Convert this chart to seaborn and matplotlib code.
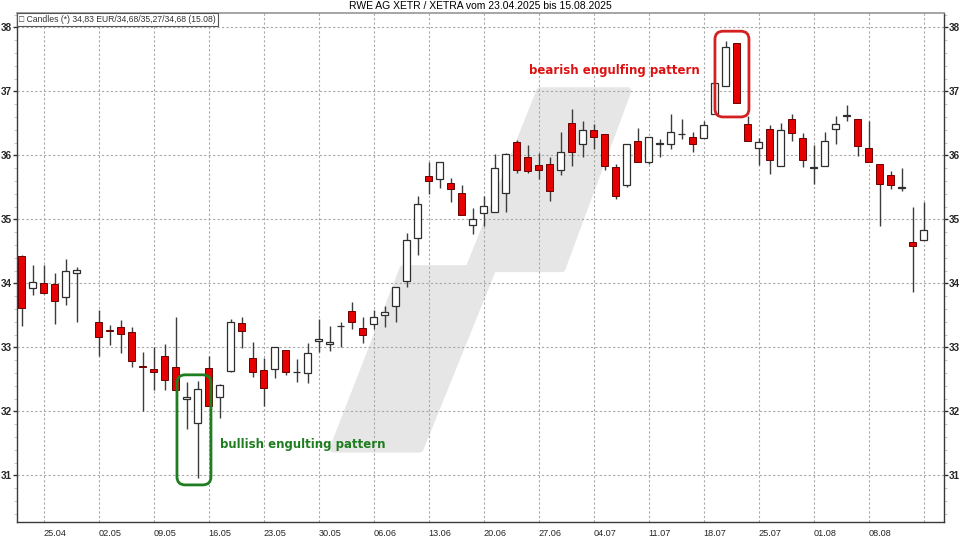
import numpy as np
import pandas as pd
import seaborn as sns
import matplotlib.pyplot as plt
from matplotlib.patches import FancyBboxPatch, Polygon

# daily candles RWE AG, XETRA
dates = ["23.04", "24.04", "25.04", "28.04", "29.04", "30.04",
         "02.05", "05.05", "06.05", "07.05", "08.05", "09.05",
         "12.05", "13.05", "14.05", "15.05", "16.05",
         "19.05", "20.05", "21.05", "22.05", "23.05",
         "26.05", "27.05", "28.05", "29.05", "30.05",
         "02.06", "03.06", "04.06", "05.06", "06.06",
         "09.06", "10.06", "11.06", "12.06", "13.06",
         "16.06", "17.06", "18.06", "19.06", "20.06",
         "23.06", "24.06", "25.06", "26.06", "27.06",
         "30.06", "01.07", "02.07", "03.07", "04.07",
         "07.07", "08.07", "09.07", "10.07", "11.07",
         "14.07", "15.07", "16.07", "17.07", "18.07",
         "21.07", "22.07", "23.07", "24.07", "25.07",
         "28.07", "29.07", "30.07", "31.07", "01.08",
         "04.08", "05.08", "06.08", "07.08", "08.08",
         "11.08", "12.08", "13.08", "14.08", "15.08"]

open_ = [34.43, 33.93, 34.01, 33.99, 33.78, 34.16,
         33.40, 33.27, 33.32, 33.24, 32.71, 32.66,
         32.87, 32.69, 32.19, 31.82, 32.67,
         32.22, 32.63, 33.38, 32.83, 32.65,
         32.66, 32.96, 32.61, 32.60, 33.10,
         33.05, 33.33, 33.56, 33.30, 33.36,
         33.50, 33.64, 34.04, 34.71, 35.68,
         35.63, 35.57, 35.41, 34.91, 35.10,
         35.11, 35.41, 36.21, 35.98, 35.85,
         35.86, 35.77, 36.50, 36.17, 36.40,
         36.33, 35.82, 35.53, 36.23, 35.89,
         36.18, 36.18, 36.33, 36.29, 36.27,
         36.65, 37.08, 37.75, 36.49, 36.12,
         36.41, 35.84, 36.57, 36.27, 35.81,
         35.84, 36.41, 36.62, 36.57, 36.11,
         35.87, 35.69, 35.49, 34.64, 34.68]

high = [34.44, 34.28, 34.28, 34.16, 34.38, 34.25,
        33.58, 33.35, 33.43, 33.32, 32.92, 33.00,
        33.05, 33.47, 32.46, 32.48, 32.87,
        32.42, 33.45, 33.47, 33.08, 32.83,
        33.01, 32.96, 32.81, 33.06, 33.44,
        33.34, 33.39, 33.71, 33.48, 33.58,
        33.64, 33.95, 34.79, 35.37, 35.89,
        35.89, 35.64, 35.54, 35.17, 35.37,
        36.02, 36.04, 36.24, 36.16, 36.03,
        35.98, 36.37, 36.72, 36.54, 36.49,
        36.33, 35.86, 36.17, 36.42, 36.29,
        36.25, 36.65, 36.57, 36.37, 36.53,
        37.13, 37.78, 37.76, 36.61, 36.27,
        36.48, 36.51, 36.65, 36.35, 36.16,
        36.37, 36.61, 36.79, 36.57, 36.53,
        35.87, 35.76, 35.80, 35.19, 35.27]

low = [33.33, 33.82, 33.83, 33.37, 33.66, 33.40,
       32.87, 33.04, 32.91, 32.69, 32.00, 32.33,
       32.34, 32.32, 31.72, 30.96, 32.08,
       31.89, 32.62, 32.99, 32.54, 32.09,
       32.52, 32.57, 32.46, 32.44, 32.93,
       32.95, 33.01, 33.28, 33.07, 33.28,
       33.32, 33.39, 33.94, 34.44, 35.40,
       35.49, 35.27, 35.07, 34.77, 34.89,
       35.11, 35.12, 35.72, 35.72, 35.63,
       35.28, 35.70, 35.84, 35.98, 36.10,
       35.77, 35.31, 35.51, 35.90, 35.87,
       35.98, 36.10, 36.26, 36.06, 36.27,
       36.65, 37.08, 36.82, 36.23, 35.85,
       35.71, 35.84, 36.22, 35.82, 35.55,
       35.84, 36.18, 36.54, 35.99, 35.90,
       34.90, 35.47, 35.44, 33.86, 34.68]

close = [33.61, 34.02, 33.85, 33.73, 34.20, 34.21,
         33.16, 33.26, 33.21, 32.78, 32.70, 32.62,
         32.49, 32.33, 32.22, 32.35, 32.09,
         32.41, 33.39, 33.26, 32.61, 32.36,
         33.01, 32.61, 32.61, 32.91, 33.13,
         33.08, 33.33, 33.39, 33.20, 33.47,
         33.55, 33.95, 34.67, 35.24, 35.60,
         35.89, 35.48, 35.07, 35.00, 35.21,
         35.80, 36.02, 35.77, 35.75, 35.77,
         35.45, 36.05, 36.06, 36.40, 36.29,
         35.84, 35.37, 36.17, 35.90, 36.29,
         36.18, 36.36, 36.33, 36.18, 36.47,
         37.13, 37.69, 36.82, 36.23, 36.21,
         35.93, 36.40, 36.35, 35.92, 35.81,
         36.22, 36.49, 36.62, 36.15, 35.90,
         35.56, 35.53, 35.49, 34.58, 34.83]

tick_dates = ["25.04", "02.05", "09.05", "16.05", "23.05", "30.05", "06.06", "13.06",
              "20.06", "27.06", "04.07", "11.07", "18.07", "25.07", "01.08", "08.08", "15.08"]
tick_labels = tick_dates[:-1] + [""]

df = pd.DataFrame({"date": pd.to_datetime([d + ".2025" for d in dates], format="%d.%m.%Y"),
                   "open": open_, "high": high, "low": low, "close": close})
# trading-day axis: weekends skipped, holidays (01.05) left as a gap
bdays = pd.bdate_range("2025-04-23", "2025-08-15")
pos = {d: i for i, d in enumerate(bdays)}
df["x"] = df["date"].map(pos)
df["up"] = df["close"] >= df["open"]
df["bottom"] = df[["open", "close"]].min(axis=1)
df["height"] = (df["close"] - df["open"]).abs().clip(lower=0.008)

tick_x = [pos[pd.to_datetime(d + ".2025", format="%d.%m.%Y")] for d in tick_dates]

sns.set_theme(style="white")
plt.rcParams["font.family"] = ["Liberation Sans", "DejaVu Sans"]

fig = plt.figure(figsize=(9.6, 5.4), dpi=100)
ax = fig.add_axes([0.0174, 0.0333, 0.9659, 0.9421])

# grey logo in the background
logo = [(28.3, 31.41), (34.67, 34.23), (40.66, 34.23), (47.12, 37.01),
        (55.12, 37.01), (49.12, 34.23), (42.85, 34.23), (36.21, 31.41)]
ax.add_patch(Polygon(logo, closed=True, facecolor="#e6e6e6", edgecolor="#e6e6e6",
                     lw=5, joinstyle="round", zorder=0))

# wicks
ax.vlines(df["x"], df["low"], df["high"], color="#3c3c3c", lw=1, zorder=2)
# bodies
up = df[df["up"]]
dn = df[~df["up"]]
ax.bar(up["x"], up["height"], bottom=up["bottom"], width=0.62,
       color="white", edgecolor="#2e2e2e", lw=0.9, zorder=3)
ax.bar(dn["x"], dn["height"], bottom=dn["bottom"], width=0.62,
       color="#e60000", edgecolor="#6a0000", lw=0.7, zorder=3)

ax.set_xlim(-0.45, 83.85)
ax.set_ylim(30.27, 38.22)

ax.set_yticks(range(31, 39))
ax.set_yticks(np.arange(30.4, 38.21, 0.2), minor=True)
ax.set_xticks(tick_x)
ax.set_xticklabels(tick_labels, ha="left", fontsize=6.6,
                   family=["Liberation Sans Narrow", "Liberation Sans"])
ax.tick_params(axis="x", direction="out", length=4, width=0.8, color="#9a9a9a", pad=1)
ax.tick_params(axis="y", which="major", direction="out", length=3, width=1, color="#333333",
               labelsize=7.2, left=True, right=True, labelleft=True, labelright=True, pad=0.5)
ax.tick_params(axis="y", which="minor", direction="out", length=2, width=0.6,
               color="#bbbbbb", left=True, right=True)
for lab in ax.get_yticklabels():
    lab.set_fontweight("bold")

ax.grid(True, which="major", color="#a8a8a8", linestyle=(0, (2, 2)), lw=0.8)
ax.set_axisbelow(True)
for side in ["left", "right", "bottom"]:
    ax.spines[side].set_color("#3a3a3a")
    ax.spines[side].set_linewidth(1)
ax.spines["top"].set_color("#9a9a9a")

# pattern markers
ax.add_patch(FancyBboxPatch((14.12, 30.85), 3.09, 1.72,
                            boxstyle="round,pad=0,rounding_size=0.75", mutation_aspect=0.17,
                            fill=False, edgecolor="#1e7d1e", lw=2, zorder=4))
ax.text(18.05, 31.48, "bullish engulting pattern", color="#1e7d1e", fontsize=8.5,
        fontweight="bold", family="DejaVu Sans", va="center", ha="left", zorder=5)
ax.add_patch(FancyBboxPatch((63.03, 36.6), 3.09, 1.34,
                            boxstyle="round,pad=0,rounding_size=0.75", mutation_aspect=0.17,
                            fill=False, edgecolor="#d42020", lw=2, zorder=4))
ax.text(46.1, 37.32, "bearish engulfing pattern", color="#dd1111", fontsize=8.5,
        fontweight="bold", family="DejaVu Sans", va="center", ha="left", zorder=5)

# info box top left
last = df.iloc[-1]
info = "\u25a1 Candles (*) {:.2f} EUR/{:.2f}/{:.2f}/{:.2f}".format(
    last["close"], last["open"], last["high"], last["low"]).replace(".", ",")
info += " ({})".format(dates[-1])
ax.text(0.003, 0.997, info, transform=ax.transAxes, fontsize=6.2, va="top", ha="left",
        color="#333333", zorder=6,
        bbox=dict(boxstyle="square,pad=0.25", facecolor="white", edgecolor="#555555", lw=0.8))

fig.text(0.5, 0.989, "RWE AG XETR / XETRA vom 23.04.2025 bis 15.08.2025",
         ha="center", va="center", fontsize=7.5, color="black")

fig.savefig("out.png", dpi=100, facecolor="white")
